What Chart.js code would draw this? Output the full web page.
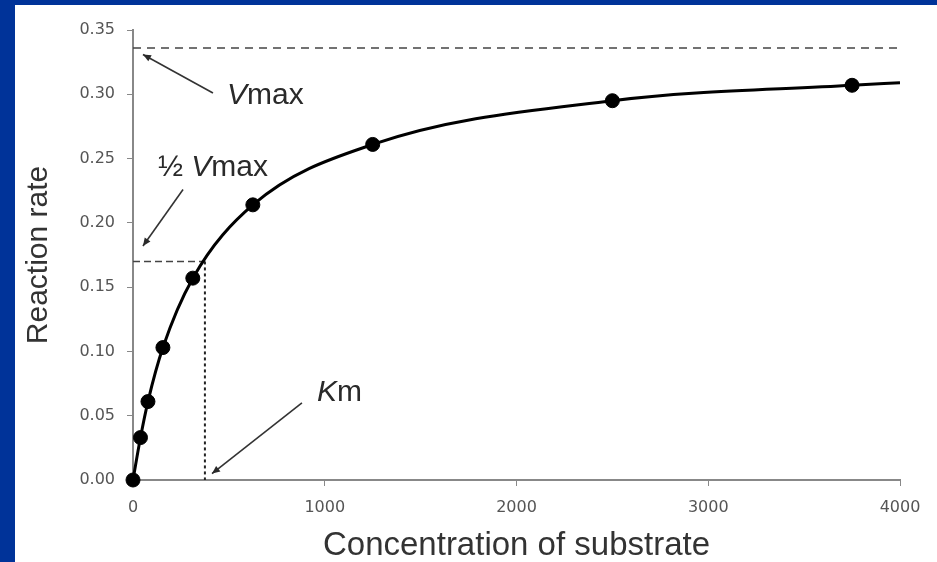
<!DOCTYPE html>
<html>
<head>
<meta charset="utf-8">
<script src="https://cdn.jsdelivr.net/npm/chart.js@4.4.0/dist/chart.umd.min.js"></script>
<style>
  html, body { margin: 0; padding: 0; width: 937px; height: 562px; overflow: hidden; background: #003399; }
  #frame { position: absolute; left: 15px; top: 5px; width: 922px; height: 557px; background: #fff; }
</style>
</head>
<body>
<div id="frame"><canvas id="mmChart" width="922" height="557"></canvas></div>
<script>
// datos (Michaelis-Menten)
const substrate = [0, 39, 78, 156, 312, 625, 1250, 2500, 3750];
const rate = [0, 0.033, 0.061, 0.103, 0.157, 0.214, 0.261, 0.295, 0.307];

// curva ajustada: pasa por los puntos y sigue hasta 4000
const curveX = [0, 39, 78, 156, 312, 625, 1250, 2500, 3750, 4000];
const curveY = [0, 0.033, 0.061, 0.103, 0.157, 0.214, 0.261, 0.295, 0.307, 0.309];

const vmax = 0.336;
const halfVmax = 0.17;
const km = 375;

const xTicks = [0, 1000, 2000, 3000, 4000];
const yTicks = [0, 0.05, 0.1, 0.15, 0.2, 0.25, 0.3, 0.35];

const toPts = (xs, ys) => xs.map((x, i) => ({ x: x, y: ys[i] }));

// etiquetas y flechas (en unidades de los ejes)
const notes = [
  { parts: [["italic", "V"], ["normal", "max"]], x: 490, y: 0.299 },
  { parts: [["normal", "½ "], ["italic", "V"], ["normal", "max"]], x: 130, y: 0.243 },
  { parts: [["italic", "K"], ["normal", "m"]], x: 960, y: 0.068 },
];
const arrows = [
  { from: [417, 0.301], to: [52, 0.331] },
  { from: [261, 0.226], to: [52, 0.182] },
  { from: [881, 0.06], to: [412, 0.005] },
];

const notesPlugin = {
  id: "notes",
  afterDatasetsDraw(chart) {
    const { ctx, scales } = chart;
    const sx = scales.x, sy = scales.y;
    ctx.save();
    ctx.fillStyle = "#2a2a2a";
    ctx.strokeStyle = "#333";
    ctx.lineWidth = 1.6;
    ctx.textBaseline = "middle";
    ctx.textAlign = "left";
    notes.forEach((n) => {
      let px = sx.getPixelForValue(n.x);
      const py = sy.getPixelForValue(n.y);
      n.parts.forEach(([style, txt]) => {
        ctx.font = style + " 30px 'Liberation Sans', Arial, sans-serif";
        ctx.fillText(txt, px, py);
        px += ctx.measureText(txt).width;
      });
    });
    arrows.forEach((a) => {
      const x1 = sx.getPixelForValue(a.from[0]), y1 = sy.getPixelForValue(a.from[1]);
      const x2 = sx.getPixelForValue(a.to[0]), y2 = sy.getPixelForValue(a.to[1]);
      const ang = Math.atan2(y2 - y1, x2 - x1);
      ctx.beginPath();
      ctx.moveTo(x1, y1);
      ctx.lineTo(x2, y2);
      ctx.stroke();
      ctx.beginPath();
      ctx.moveTo(x2, y2);
      ctx.lineTo(x2 - 8 * Math.cos(ang) + 3.5 * Math.sin(ang), y2 - 8 * Math.sin(ang) - 3.5 * Math.cos(ang));
      ctx.lineTo(x2 - 8 * Math.cos(ang) - 3.5 * Math.sin(ang), y2 - 8 * Math.sin(ang) + 3.5 * Math.cos(ang));
      ctx.closePath();
      ctx.fill();
    });
    ctx.restore();
  },
};

const tickFont = { family: "'DejaVu Sans', sans-serif", size: 16 };

const ctx = document.getElementById("mmChart").getContext("2d");
const mmChart = new Chart(ctx, {
  type: "scatter",
  data: {
    datasets: [
      {
        label: "Datos",
        data: toPts(substrate, rate),
        backgroundColor: "#000",
        borderColor: "#000",
        pointRadius: 7,
        showLine: false,
        clip: false,
        order: 0,
      },
      {
        label: "Ajuste",
        data: toPts(curveX, curveY),
        showLine: true,
        borderColor: "#000",
        borderWidth: 3,
        pointRadius: 0,
        cubicInterpolationMode: "monotone",
        clip: false,
        order: 1,
      },
      {
        label: "Vmax",
        data: [{ x: 0, y: vmax }, { x: 4000, y: vmax }],
        showLine: true,
        borderColor: "#444",
        borderWidth: 1.6,
        borderDash: [8, 6],
        pointRadius: 0,
        order: 2,
      },
      {
        label: "Vmax/2",
        data: [{ x: 0, y: halfVmax }, { x: km, y: halfVmax }],
        showLine: true,
        borderColor: "#444",
        borderWidth: 1.6,
        borderDash: [7, 4],
        pointRadius: 0,
        order: 3,
      },
      {
        label: "Km",
        data: [{ x: km, y: halfVmax }, { x: km, y: 0 }],
        showLine: true,
        borderColor: "#222",
        borderWidth: 2,
        borderDash: [3, 3],
        pointRadius: 0,
        order: 4,
      },
    ],
  },
  options: {
    responsive: false,
    animation: false,
    devicePixelRatio: 1,
    layout: { padding: { top: 25, right: 37, left: 0, bottom: 0 } },
    plugins: {
      legend: { display: false },
      tooltip: { enabled: false },
    },
    scales: {
      x: {
        type: "linear",
        min: 0,
        max: 4000,
        afterBuildTicks: (s) => { s.ticks = xTicks.map((v) => ({ value: v })); },
        afterFit: (s) => { s.height = 82; },
        ticks: { font: tickFont, color: "#555", padding: 12, maxRotation: 0, callback: (v) => String(v) },
        grid: { display: true, drawOnChartArea: false, drawTicks: true, tickLength: 6, color: "#888" },
        border: { display: true, color: "#888", width: 2 },
        title: {
          display: true,
          text: "Concentration of substrate",
          font: { family: "'Liberation Sans', Arial, sans-serif", size: 33, lineHeight: 1 },
          color: "#333",
          padding: { top: 0, bottom: 0 },
        },
      },
      y: {
        type: "linear",
        min: 0,
        max: 0.35,
        afterBuildTicks: (s) => { s.ticks = yTicks.map((v) => ({ value: v })); },
        afterFit: (s) => { s.width = 118; },
        ticks: {
          font: tickFont,
          color: "#555",
          padding: 12,
          callback: (v) => Number(v).toFixed(2),
        },
        grid: { display: true, drawOnChartArea: false, drawTicks: true, tickLength: 6, color: "#888" },
        border: { display: true, color: "#888", width: 2 },
        title: {
          display: true,
          text: "Reaction rate",
          font: { family: "'Liberation Sans', Arial, sans-serif", size: 30, lineHeight: 1.2 },
          color: "#333",
          padding: { top: 6, bottom: 0 },
        },
      },
    },
  },
  plugins: [notesPlugin],
});
</script>
</body>
</html>
